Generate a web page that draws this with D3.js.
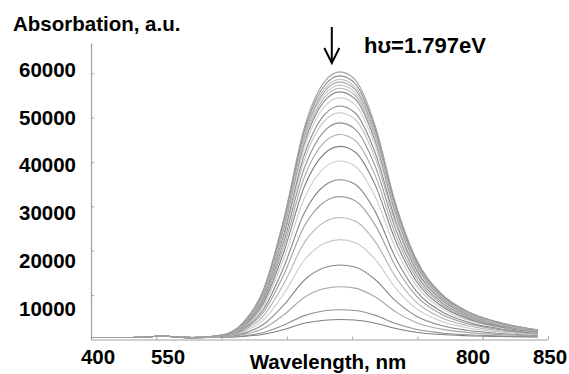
<!DOCTYPE html>
<html>
<head>
<meta charset="utf-8">
<script src="https://cdn.jsdelivr.net/npm/d3@7"></script>
<style>
  html, body { margin: 0; padding: 0; background: #fff; }
  svg { display: block; }
  text { font-family: "Liberation Sans", Arial, sans-serif; font-weight: bold; fill: #000; }
</style>
</head>
<body>
<svg id="chart" width="569" height="374"></svg>
<script>
// ---- data ----
const wavelengths = [400, 440, 460, 470, 480, 500, 530, 550, 570, 590, 610, 630, 645, 660, 680, 700, 720, 745, 770, 800, 840];

const spec01 = [450, 450, 650, 850, 600, 420, 1040, 3840, 11340, 27320, 47670, 58090, 60300, 58560, 48090, 30610, 18230, 10330, 6440, 3970, 2170];
const spec02 = [450, 450, 650, 850, 600, 420, 1030, 3790, 11180, 26920, 46960, 57220, 59400, 57690, 47370, 30160, 17960, 10180, 6350, 3920, 2140];
const spec03 = [450, 450, 650, 850, 600, 420, 1030, 3740, 11030, 26560, 46330, 56450, 58600, 56910, 46740, 29760, 17720, 10050, 6270, 3870, 2120];
const spec04 = [450, 450, 650, 850, 600, 420, 1020, 3710, 10920, 26290, 45860, 55870, 58000, 56330, 46260, 29460, 17540, 9950, 6210, 3830, 2100];
const spec05 = [450, 450, 650, 850, 600, 420, 1010, 3670, 10800, 25980, 45310, 55200, 57300, 55650, 45700, 29100, 17330, 9830, 6140, 3790, 2080];
const spec06 = [450, 450, 650, 850, 600, 420, 1010, 3630, 10670, 25660, 44750, 54520, 56600, 54970, 45150, 28750, 17130, 9720, 6070, 3750, 2060];
const spec07 = [450, 450, 650, 850, 600, 420, 1000, 3580, 10520, 25300, 44120, 53750, 55800, 54200, 44510, 28350, 16890, 9580, 5990, 3700, 2040];
const spec08 = [450, 450, 650, 850, 600, 420, 990, 3510, 10290, 24720, 43100, 52500, 54500, 52930, 43470, 27690, 16500, 9370, 5860, 3630, 2000];
const spec09 = [450, 450, 650, 850, 600, 420, 970, 3400, 9940, 23870, 41600, 50670, 52600, 51090, 41960, 26730, 15940, 9050, 5670, 3520, 1950];
const spec10 = [450, 450, 650, 850, 600, 420, 950, 3320, 9670, 23190, 40410, 49230, 51100, 49630, 40770, 25980, 15490, 8810, 5520, 3430, 1900];
const spec11 = [450, 450, 650, 850, 600, 420, 930, 3190, 9250, 22160, 38600, 47010, 48800, 47400, 38940, 24820, 14810, 8430, 5290, 3290, 1840];
const spec12 = [450, 450, 650, 850, 600, 420, 900, 3040, 8780, 20990, 36550, 44510, 46200, 44870, 36870, 23510, 14040, 8000, 5030, 3140, 1760];
const spec13 = [450, 450, 650, 850, 600, 420, 880, 2890, 8290, 19780, 34420, 41910, 43500, 42250, 34720, 22150, 13240, 7550, 4760, 2980, 1690];
const spec14 = [450, 450, 650, 850, 600, 420, 840, 2700, 7690, 18300, 31810, 38730, 40200, 39050, 32090, 20480, 12260, 7010, 4430, 2790, 1590];
const spec15 = [450, 450, 650, 850, 600, 420, 800, 2460, 6920, 16410, 28500, 34690, 36000, 34970, 28750, 18370, 11010, 6320, 4010, 2540, 1470];
const spec16 = [450, 450, 650, 850, 600, 420, 760, 2250, 6230, 14710, 25500, 31030, 32200, 31280, 25720, 16450, 9880, 5690, 3630, 2320, 1360];
const spec17 = [450, 450, 650, 850, 600, 420, 720, 1980, 5370, 12600, 21790, 26500, 27500, 26720, 21980, 14080, 8480, 4910, 3160, 2040, 1230];
const spec18 = [450, 450, 650, 850, 600, 420, 670, 1700, 4460, 10350, 17850, 21680, 22500, 21860, 18000, 11560, 7000, 4090, 2660, 1750, 1080];
const spec19 = [450, 450, 650, 850, 600, 420, 610, 1380, 3430, 7790, 13350, 16200, 16800, 16330, 13470, 8690, 5310, 3150, 2090, 1410, 920];
const spec20 = [450, 450, 650, 850, 600, 420, 560, 1100, 2530, 5590, 9480, 11480, 11900, 11570, 9560, 6220, 3850, 2340, 1600, 1120, 780];
const spec21 = [450, 450, 650, 850, 600, 420, 510, 800, 1590, 3260, 5380, 6470, 6700, 6520, 5430, 3600, 2310, 1480, 1080, 820, 630];
const spec22 = [450, 450, 650, 850, 600, 420, 490, 680, 1190, 2270, 3650, 4350, 4500, 4380, 3670, 2490, 1650, 1120, 860, 690, 570];

const spectra = [spec01, spec02, spec03, spec04, spec05, spec06, spec07, spec08, spec09, spec10, spec11,
                 spec12, spec13, spec14, spec15, spec16, spec17, spec18, spec19, spec20, spec21, spec22];

const yTickValues = [10000, 20000, 30000, 40000, 50000, 60000];
const xTickLabels = [400, 550, 800, 850];
const yAxisTitle = "Absorbation, a.u.";
const xAxisTitle = "Wavelength, nm";
const peakNote = "h\u028A=1.797eV";
const peakWavelength = 645;

// ---- styles ----
const lineColors = ["#a0a0a0", "#8c8c8c", "#c0c0c0", "#9c9c9c", "#c8c8c8", "#b4b4b4", "#8c8c8c", "#d0d0d0",
                    "#8a8a8a", "#c2c2c2", "#8e8e8e", "#a8a8a8", "#808080", "#cccccc", "#888888", "#9e9e9e",
                    "#b0b0b0", "#cacaca", "#8a8a8a", "#a8a8a8", "#909090", "#7e7e7e"];

const svg = d3.select("#chart");

const x = d3.scaleLinear().domain([400, 850]).range([91, 548]);
const y = d3.scaleLinear().domain([0, 66800]).range([339.5, 43]);

// label placement scales (labels in the original are not aligned with the tick marks)
const xLabelPos = d3.scaleLinear().domain([400, 550, 800, 850]).range([98, 168, 473, 550]);
const yLabelPos = d3.scaleLinear().domain([10000, 60000]).range([316, 76.7]);

// axes (tick marks only)
const xAxis = d3.axisBottom(x)
  .tickValues(d3.range(8).map(i => 400 + i * 450 / 7))
  .tickSize(-3).tickSizeOuter(0).tickFormat("");
const yAxis = d3.axisLeft(y)
  .tickValues(yTickValues)
  .tickSize(-3).tickSizeOuter(0).tickFormat("");

const gx = svg.append("g").attr("transform", `translate(0,${y(0)})`).call(xAxis);
const gy = svg.append("g").attr("transform", `translate(${x(400)},0)`).call(yAxis);
[gx, gy].forEach(g => {
  g.select(".domain").attr("stroke", "#a0a0a0").attr("stroke-width", 1.2);
  g.selectAll(".tick line").attr("stroke", "#a0a0a0");
});

// curves
const line = d3.line()
  .x((d, i) => x(wavelengths[i]))
  .y(d => y(d))
  .curve(d3.curveMonotoneX);

svg.append("g")
  .selectAll("path")
  .data(spectra.slice().reverse())
  .join("path")
  .attr("d", d => line(d))
  .attr("fill", "none")
  .attr("stroke", (d, i) => lineColors[spectra.length - 1 - i])
  .attr("stroke-width", 1.1);

// tick labels
svg.append("g").selectAll("text")
  .data(yTickValues)
  .join("text")
  .attr("x", 76)
  .attr("y", d => yLabelPos(d))
  .attr("text-anchor", "end")
  .style("font-size", "20.5px")
  .text(d => d);

svg.append("g").selectAll("text")
  .data(xTickLabels)
  .join("text")
  .attr("x", d => xLabelPos(d))
  .attr("y", 364)
  .attr("text-anchor", "middle")
  .style("font-size", "20.5px")
  .text(d => d);

// axis titles
svg.append("text")
  .attr("x", 13).attr("y", 31)
  .style("font-size", "20.5px")
  .text(yAxisTitle);

svg.append("text")
  .attr("x", 328).attr("y", 369)
  .attr("text-anchor", "middle")
  .style("font-size", "20.5px")
  .text(xAxisTitle);

// peak annotation: arrow + text
const ax = x(peakWavelength) - 8;
svg.append("line")
  .attr("x1", ax).attr("x2", ax)
  .attr("y1", 27).attr("y2", 62)
  .attr("stroke", "#000").attr("stroke-width", 2);
svg.append("path")
  .attr("d", `M${ax - 7.5},48 L${ax},63 L${ax + 7.5},48`)
  .attr("fill", "none").attr("stroke", "#000").attr("stroke-width", 2);

svg.append("text")
  .attr("x", 364).attr("y", 53)
  .style("font-size", "22px")
  .text(peakNote);
</script>
</body>
</html>
